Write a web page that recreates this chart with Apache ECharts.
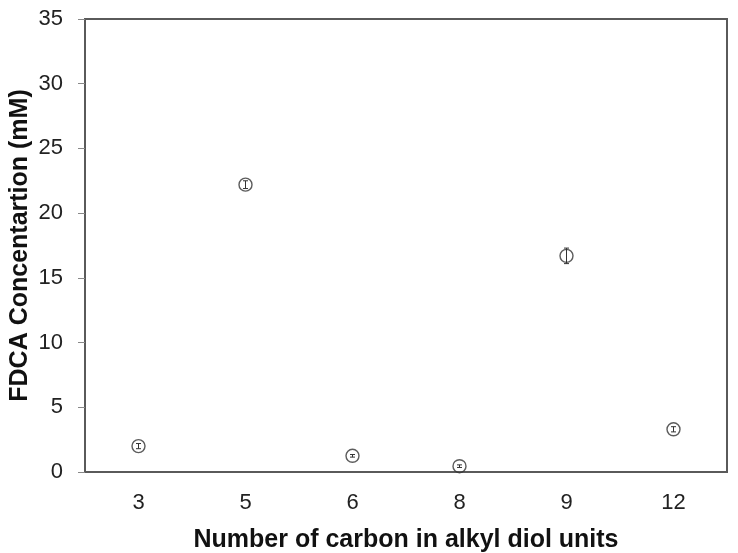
<!DOCTYPE html>
<html>
<head>
<meta charset="utf-8">
<script src="https://cdn.jsdelivr.net/npm/echarts@6/dist/echarts.min.js"></script>
<style>
  html, body { margin: 0; padding: 0; background: #fff; }
  #chart { width: 738px; height: 553px; }
</style>
</head>
<body>
<div id="chart"></div>
<script>
// carbon number of the diol unit
const carbons = ['3', '5', '6', '8', '9', '12'];
// FDCA concentration (mM) and its error
const fdca = [2.0, 22.2, 1.25, 0.45, 16.7, 3.3];
const fdcaErr = [0.2, 0.3, 0.1, 0.1, 0.6, 0.2];
const yTicks = [0, 35, 5]; // min, max, step

const font = 'Liberation Sans, Arial, sans-serif';
const axisColor = '#5a5a5a';

const errData = carbons.map((c, i) => [i, fdca[i] - fdcaErr[i], fdca[i] + fdcaErr[i]]);

const chart = echarts.init(document.getElementById('chart'));
chart.setOption({
    animation: false,
    grid: {
        left: 85,
        right: 11,
        top: 19,
        bottom: 81,
        outerBoundsMode: 'none',
        containLabel: false,
        show: true,
        borderColor: axisColor,
        borderWidth: 2,
    },
    xAxis: {
        type: 'category',
        data: carbons,
        axisLine: { lineStyle: { color: axisColor, width: 2 } },
        axisTick: { show: false },
        axisLabel: { fontSize: 22, color: '#222', fontFamily: font, margin: 20 },
        name: 'Number of carbon in alkyl diol units',
        nameLocation: 'middle',
        nameGap: 56,
        nameMoveOverlap: false,
        nameTextStyle: { fontSize: 25, fontWeight: 'bold', color: '#111', fontFamily: font },
    },
    yAxis: {
        type: 'value',
        min: yTicks[0],
        max: yTicks[1],
        interval: yTicks[2],
        splitLine: { show: false },
        axisLine: { show: true, lineStyle: { color: axisColor, width: 2 } },
        axisTick: { show: true, length: 7, lineStyle: { color: '#888', width: 1 } },
        axisLabel: { fontSize: 22, color: '#222', fontFamily: font, margin: 22 },
        name: 'FDCA Concentartion (mM)',
        nameLocation: 'middle',
        nameGap: 52,
        nameMoveOverlap: false,
        nameTextStyle: { fontSize: 25, fontWeight: 'bold', color: '#111', fontFamily: font },
    },
    series: [
        {
            type: 'custom',
            data: errData,
            z: 3,
            renderItem: (params, api) => {
                const lo = api.coord([api.value(0), api.value(1)]);
                const hi = api.coord([api.value(0), api.value(2)]);
                const w = 2.5;
                const style = { stroke: '#333', lineWidth: 1 };
                return {
                    type: 'group',
                    children: [
                        { type: 'line', shape: { x1: lo[0], y1: lo[1], x2: hi[0], y2: hi[1] }, style },
                        { type: 'line', shape: { x1: lo[0] - w, y1: lo[1], x2: lo[0] + w, y2: lo[1] }, style },
                        { type: 'line', shape: { x1: hi[0] - w, y1: hi[1], x2: hi[0] + w, y2: hi[1] }, style },
                    ],
                };
            },
        },
        {
            type: 'scatter',
            data: fdca,
            symbol: 'circle',
            symbolSize: 13,
            z: 4,
            itemStyle: { color: 'transparent', borderColor: '#333', borderWidth: 1.4 },
        },
    ],
});
</script>
</body>
</html>
